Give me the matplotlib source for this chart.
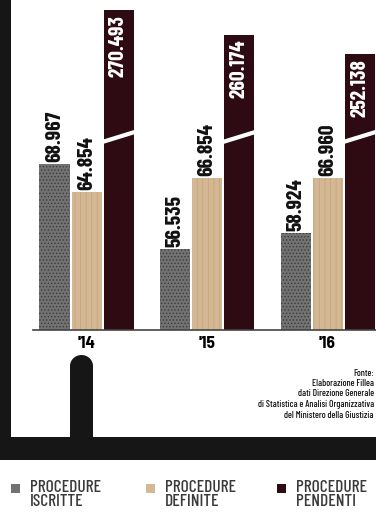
import numpy as np
import matplotlib
matplotlib.use('Agg')
import matplotlib.pyplot as plt
from matplotlib.patches import Rectangle, Ellipse

# ---------------- data ----------------
years = ["'14", "'15", "'16"]
series_names = ["PROCEDURE\nISCRITTE", "PROCEDURE\nDEFINITE", "PROCEDURE\nPENDENTI"]
iscritte = [68967, 56535, 58924]
definite = [64854, 66854, 66960]
pendenti = [270493, 260174, 252138]
source_lines = ["Fonte:", "Elaborazione Fillea", "dati Direzione Generale",
                "di Statistica e Analisi Organizzativa", "del Ministero della Giustizia"]

# ---------------- style ----------------
W, H = 376, 516
FONT = ['Barlow Condensed', 'DejaVu Sans']
plt.rcParams['font.family'] = FONT
plt.rcParams['hatch.linewidth'] = 0.6
fig = plt.figure(figsize=(W / 100, H / 100), dpi=100)


def fx(px):
    return px / W


def fy(py):
    return 1 - py / H


# broken (piecewise) value scale
V0, K1 = 44687.0, 6.837e-3
B1 = V0 + 188 / K1
B2, K2 = 219660.0, 2.4e-3
KM = 10 / (B2 - B1)


def fwd(v):
    v = np.asarray(v, float)
    return np.where(v <= B1, (v - V0) * K1,
                    np.where(v < B2, 188 + (v - B1) * KM, 198 + (v - B2) * K2))


def inv(h):
    h = np.asarray(h, float)
    return np.where(h <= 188, V0 + h / K1,
                    np.where(h < 198, B1 + (h - 188) / KM, B2 + (h - 198) / K2))


ax = fig.add_axes([fx(33), fy(330), fx(376) - fx(33), 330 / H])
ax.set_yscale('function', functions=(fwd, inv))
ax.set_ylim(V0, float(inv(330)))

x = np.arange(len(years))
unit = 120.5
off = 32 / unit
w = 30 / unit
ax.set_xlim(-(86.5 - 33) / unit, (376 - 86.5) / unit)

c_isc, c_def, c_pen = '#727272', '#d4b793', '#2e0b13'
ax.bar(x - off, iscritte, w, color=c_isc, edgecolor='#3c3c3c', hatch='.....', linewidth=0)
ax.bar(x, definite, w, color=c_def, edgecolor='#c6a680', hatch='|||', linewidth=0)
ax.bar(x + off, pendenti, w, color=c_pen, linewidth=0)

# break marks on the tall bars
for xc in x + off:
    ax.plot([xc - w / 2 - 0.01, xc + w / 2 + 0.01], [B1, B2], color='white', lw=3,
            solid_capstyle='butt', zorder=3)


def fmt(v):
    return f"{v:,}".replace(',', '.')


for xs, vals in ((x - off, iscritte), (x, definite)):
    for xi, v in zip(xs, vals):
        ax.annotate(fmt(v), (xi, v), xytext=(0, 1.5), textcoords='offset points',
                    rotation=90, ha='center', va='bottom', fontsize=15.5,
                    fontweight='bold', color='#111111')
for xi, v in zip(x + off, pendenti):
    ax.annotate(fmt(v), (xi, v), xytext=(0, -3.5), textcoords='offset points',
                rotation=90, ha='center', va='top', fontsize=15.5,
                fontweight='bold', color='white', zorder=4)

ax.set_xticks(x, years)
ax.tick_params(axis='x', length=0, pad=4)
for t in ax.get_xticklabels():
    t.set_fontweight('bold')
    t.set_fontfamily(['Barlow Semi Condensed', 'DejaVu Sans'])
    t.set_fontsize(12.5)
ax.set_yticks([])
ax.yaxis.set_minor_locator(matplotlib.ticker.NullLocator())
for s in ('top', 'left', 'right'):
    ax.spines[s].set_visible(False)
ax.spines['bottom'].set_color('#444444')
ax.spines['bottom'].set_linewidth(1.2)

# ---------------- decorative frame ----------------
dark = '#161616'
fig.add_artist(Rectangle((fx(0), fy(460)), fx(11), 460 / H, transform=fig.transFigure,
                         color=dark, lw=0))
fig.add_artist(Rectangle((0, fy(460)), 1, 23 / H, transform=fig.transFigure,
                         color=dark, lw=0))
fig.add_artist(Rectangle((fx(70), fy(437)), fx(23), (437 - 366) / H,
                         transform=fig.transFigure, color=dark, lw=0))
fig.add_artist(Ellipse((fx(81.5), fy(366)), fx(23), 22 / H,
                       transform=fig.transFigure, color=dark, lw=0))

# ---------------- source ----------------
for i, line in enumerate(source_lines):
    fig.text(fx(374), fy(373 + i * 10.5), line, ha='right', va='center',
             fontsize=6.8, fontweight='medium', color='#111111')

# ---------------- legend ----------------
leg_x = [11, 146, 277]
for lx, name, col in zip(leg_x, series_names, (c_isc, c_def, c_pen)):
    fig.add_artist(Rectangle((fx(lx), fy(493)), fx(9), 9 / H, transform=fig.transFigure,
                             color=col, lw=0))
    fig.text(fx(lx + 19), fy(480), name, ha='left', va='top', fontsize=12.5,
             fontweight='medium', color='#3a3a3a', linespacing=0.95)

fig.savefig('out.png', dpi=100)
